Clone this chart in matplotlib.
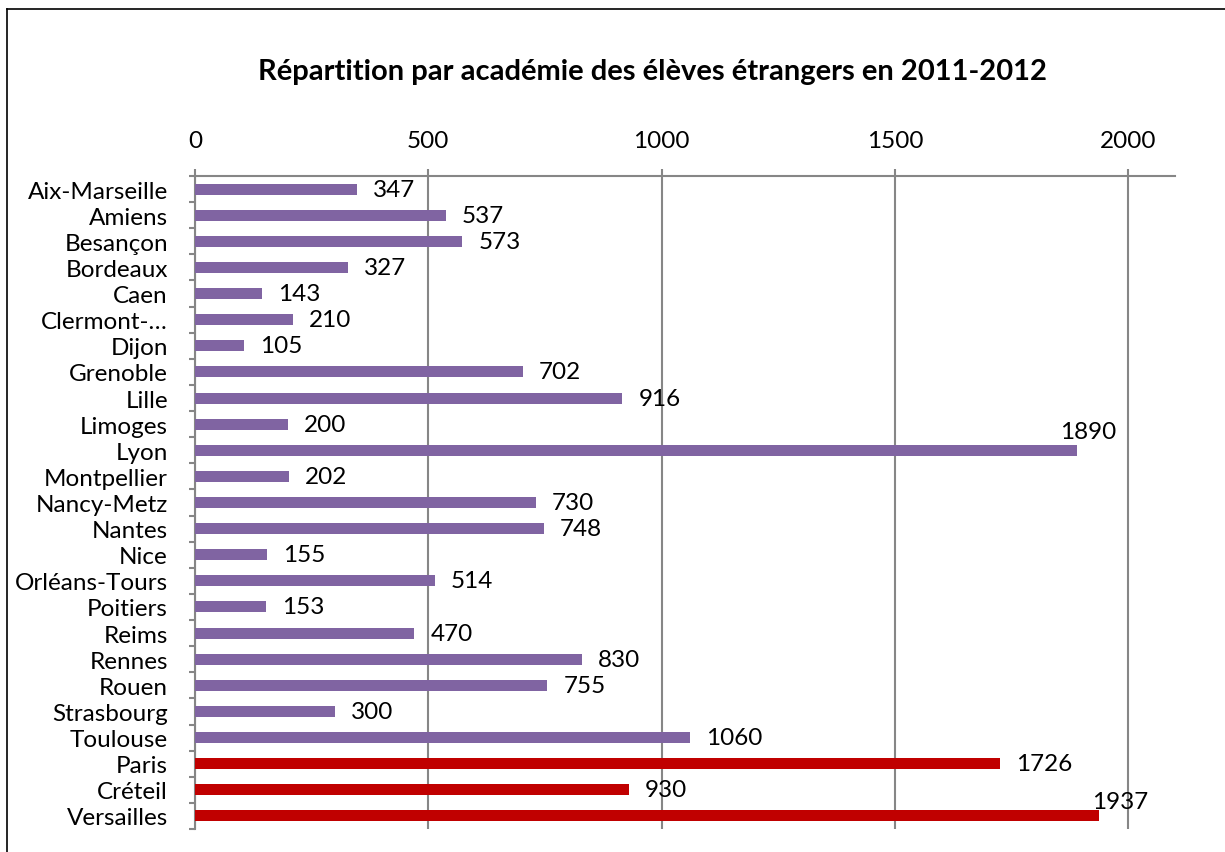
import matplotlib
matplotlib.use("Agg")
import matplotlib.pyplot as plt
from matplotlib.lines import Line2D
import numpy as np

plt.rcParams['font.family'] = ['Lato', 'DejaVu Sans']

academies = ['Aix-Marseille', 'Amiens', 'Besançon', 'Bordeaux', 'Caen', 'Clermont-…',
             'Dijon', 'Grenoble', 'Lille', 'Limoges', 'Lyon', 'Montpellier',
             'Nancy-Metz', 'Nantes', 'Nice', 'Orléans-Tours', 'Poitiers', 'Reims',
             'Rennes', 'Rouen', 'Strasbourg', 'Toulouse', 'Paris', 'Créteil', 'Versailles']
eleves = [347, 537, 573, 327, 143, 210, 105, 702, 916, 200, 1890, 202,
          730, 748, 155, 514, 153, 470, 830, 755, 300, 1060, 1726, 930, 1937]
ile_de_france = ['Paris', 'Créteil', 'Versailles']
xticks = [0, 500, 1000, 1500, 2000]

purple = '#8064A2'
red = '#C00000'
grey = '#868686'
fs = 17.5

# labels that don't fit at the end of the bar get pushed up a bit
label_offsets = {'Lyon': (-17, 19), 'Versailles': (-7, 14)}

fig = plt.figure(figsize=(12.25, 8.53), dpi=100)
ax = fig.add_axes([195 / 1225, 1 - 830 / 853, 980 / 1225, (830 - 177) / 853])

ypos = np.arange(len(academies))
colors = [red if a in ile_de_france else purple for a in academies]
ax.barh(ypos, eleves, height=0.42, color=colors, zorder=3)

ax.set_xlim(0, 2100)
ax.set_ylim(len(academies) - 0.5, -0.5)

# x axis on top
ax.xaxis.tick_top()
ax.set_xticks(xticks)
ax.set_xticklabels([str(t) for t in xticks])
ax.tick_params(axis='x', length=5, width=1.5, color=grey, pad=13, labelsize=fs)
ax.grid(axis='x', color=grey, linewidth=1.5, zorder=1)

ax.set_yticks(ypos)
ax.set_yticklabels(academies)
ax.set_yticks(np.arange(len(academies) + 1) - 0.5, minor=True)
ax.tick_params(axis='y', which='major', length=0, pad=19.5, labelsize=fs)
ax.tick_params(axis='y', which='minor', length=4.5, width=1.5, color=grey)

for s in ['right', 'bottom']:
    ax.spines[s].set_visible(False)
for s in ['left', 'top']:
    ax.spines[s].set_color(grey)
    ax.spines[s].set_linewidth(1.5)

# value labels
for name, y, v in zip(academies, ypos, eleves):
    off = label_offsets.get(name, (16, 0))
    ax.annotate(str(v), (v, y), xytext=off, textcoords='offset pixels',
                ha='left', va='center', fontsize=fs)

fig.text(652 / 1225, 1 - 72 / 853, 'Répartition par académie des élèves étrangers en 2011-2012',
         ha='center', va='center', fontsize=21, fontweight='bold')

# chart frame (only left and top edges visible)
fig.add_artist(Line2D([7 / 1225, 7 / 1225], [0, 1 - 10 / 853], color='black', linewidth=1.2))
fig.add_artist(Line2D([7 / 1225, 1], [1 - 10 / 853, 1 - 10 / 853], color='black', linewidth=1.2))

fig.savefig('out.png', dpi=100)
